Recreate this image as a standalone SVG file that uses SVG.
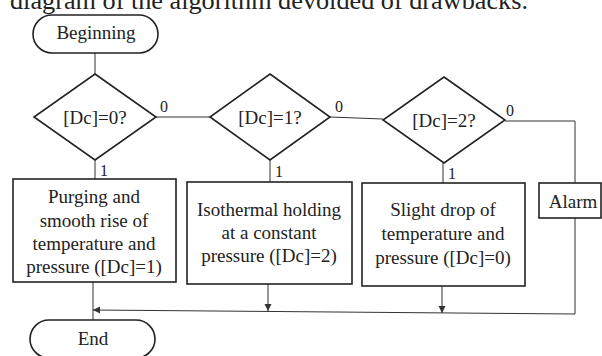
<svg xmlns="http://www.w3.org/2000/svg" width="602" height="356" viewBox="0 0 602 356">
<style>
text{font-family:"Liberation Serif","Times New Roman",serif;fill:#222;text-anchor:middle}
.t{font-size:19px}
.d{font-size:19px}
.l{font-size:16px;text-anchor:start}
.s{fill:#fff;stroke:#222;stroke-width:1.6}
.c{fill:none;stroke:#333;stroke-width:1}
</style>
<defs>
<marker id="ah" viewBox="0 0 10 10" refX="10" refY="5" markerWidth="7" markerHeight="8" markerUnits="userSpaceOnUse" orient="auto">
<path d="M0,0 L10,5 L0,10 Z" fill="#333"/>
</marker>
</defs>
<rect width="602" height="356" fill="#fff"/>
<text x="10" y="9" style="font-size:25px;text-anchor:start" textLength="518" lengthAdjust="spacingAndGlyphs">diagram of the algorithm devoided of  drawbacks.</text>
<g id="connectors">
<line class="c" x1="95" y1="53" x2="95" y2="74"/>
<line class="c" x1="156" y1="117" x2="210" y2="117"/>
<line class="c" x1="330" y1="117" x2="383" y2="119"/>
<polyline class="c" points="505,121 575,121 575,183"/>
<line class="c" x1="95" y1="160" x2="95" y2="179"/>
<line class="c" x1="270" y1="160" x2="270" y2="182"/>
<line class="c" x1="443" y1="163" x2="443" y2="183"/>
<polyline class="c" points="575,218 575,314 93,310" marker-end="url(#ah)"/>
<line class="c" x1="93" y1="282" x2="93" y2="320"/>
<line class="c" x1="268" y1="284" x2="268" y2="311" marker-end="url(#ah)"/>
<line class="c" x1="442" y1="286" x2="442" y2="313" marker-end="url(#ah)"/>
<text class="l" x="160" y="112">0</text>
<text class="l" x="335" y="112">0</text>
<text class="l" x="506" y="116">0</text>
<text class="l" x="100" y="176">1</text>
<text class="l" x="275" y="177">1</text>
<text class="l" x="448" y="179">1</text>
</g>
<g id="beginning">
<rect class="s" x="33" y="15" width="125" height="38" rx="19"/>
<text class="t" x="96" y="39">Beginning</text>
</g>
<g id="dc0">
<polygon class="s" points="95,74 156,117 95,160 34,117"/>
<text class="d" x="95" y="124">[Dc]=0?</text>
</g>
<g id="dc1">
<polygon class="s" points="270,74 330,117 270,160 210,117"/>
<text class="d" x="270" y="124">[Dc]=1?</text>
</g>
<g id="dc2">
<polygon class="s" points="444,77 505,120 444,163 383,120"/>
<text class="d" x="444" y="127">[Dc]=2?</text>
</g>
<g id="purging">
<rect class="s" x="13" y="179" width="163" height="103"/>
<text class="t" x="94" y="203">Purging and</text>
<text class="t" x="94" y="226.5">smooth rise of</text>
<text class="t" x="94" y="250">temperature and</text>
<text class="t" x="94" y="273">pressure ([Dc]=1)</text>
</g>
<g id="isothermal">
<rect class="s" x="187" y="182" width="165" height="102"/>
<text class="t" x="269" y="216">Isothermal holding</text>
<text class="t" x="269" y="239">at a constant</text>
<text class="t" x="269" y="262">pressure ([Dc]=2)</text>
</g>
<g id="slight">
<rect class="s" x="362" y="183" width="163" height="103"/>
<text class="t" x="443" y="216">Slight drop of</text>
<text class="t" x="443" y="240">temperature and</text>
<text class="t" x="443" y="264">pressure ([Dc]=0)</text>
</g>
<g id="alarm">
<rect class="s" x="539" y="183" width="62" height="35"/>
<text class="t" x="573" y="208">Alarm</text>
</g>
<g id="end">
<rect class="s" x="30" y="320" width="125" height="38" rx="19"/>
<text class="t" x="93" y="345">End</text>
</g>
</svg>
